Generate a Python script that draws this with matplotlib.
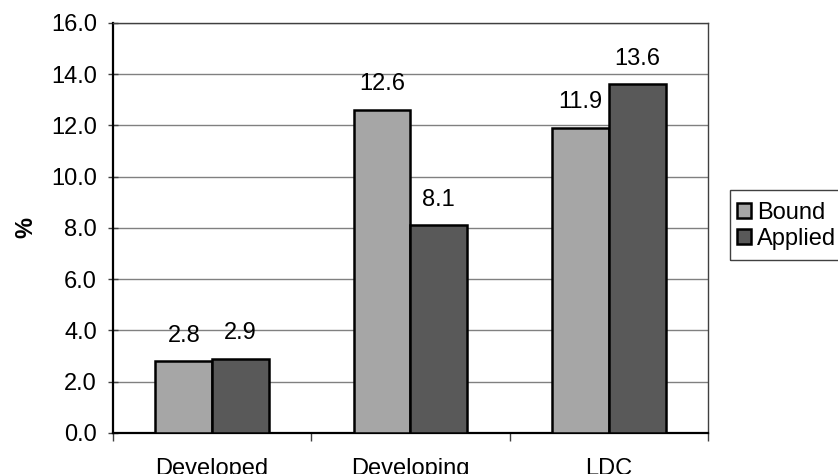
import numpy as np
import matplotlib.pyplot as plt
from matplotlib.patches import Rectangle

plt.rcParams['font.family'] = ['Liberation Sans', 'DejaVu Sans']

# tariff averages by country group
groups = ['Developed', 'Developing', 'LDC']
bound = [2.8, 12.6, 11.9]
applied = [2.9, 8.1, 13.6]
series_names = ['Bound', 'Applied']
yticks = np.arange(0, 16.1, 2.0)

fs = 17

fig = plt.figure(figsize=(8.38, 4.74), dpi=100)
ax = fig.add_axes([0.1348, 0.0865, 0.7100, 0.8650])

x = np.arange(len(groups))
w = 0.286
b1 = ax.bar(x - w / 2, bound, w, color='#a6a6a6', edgecolor='black', linewidth=1.8,
            label=series_names[0], zorder=3)
b2 = ax.bar(x + w / 2, applied, w, color='#595959', edgecolor='black', linewidth=1.8,
            label=series_names[1], zorder=3)

for bars in (b1, b2):
    for r in bars:
        v = r.get_height()
        ax.annotate(f'{v:.1f}', (r.get_x() + r.get_width() / 2, v),
                    xytext=(0, 18.5), textcoords='offset points',
                    ha='center', va='center', fontsize=fs, zorder=4)

ax.set_xlim(-0.5, len(groups) - 0.5)
ax.set_ylim(0, 16)
ax.set_yticks(yticks)
ax.set_yticklabels([f'{t:.1f}' for t in yticks], fontsize=fs)
ax.yaxis.grid(True, color='#808080', linewidth=1.0, zorder=0)

# category labels in the middle, tick marks on the boundaries
ax.set_xticks(x)
ax.set_xticklabels(groups, fontsize=fs)
ax.tick_params(axis='x', which='major', length=0, pad=18)
ax.set_xticks(np.arange(-0.5, len(groups), 1.0), minor=True)
ax.tick_params(axis='x', which='minor', length=6, width=1, direction='out', color='#404040')
ax.tick_params(axis='y', length=7, width=1, direction='inout', color='#404040', pad=8)

for side in ('left', 'bottom'):
    ax.spines[side].set_linewidth(1.6)
    ax.spines[side].set_color('black')
for side in ('top', 'right'):
    ax.spines[side].set_linewidth(1.0)
    ax.spines[side].set_color('#404040')

ax.set_ylabel('%', fontsize=fs, fontweight='bold', labelpad=10)

# legend entries without their own frame; the box runs off the right edge
fig.legend(handles=[b1, b2], loc='upper left', bbox_to_anchor=(0.8795, 0.5736),
           fontsize=fs, frameon=False, handlelength=0.6, handleheight=0.6,
           handletextpad=0.25, borderpad=0, labelspacing=0.15, borderaxespad=0)
fig.patches.append(Rectangle((730 / 838, 1 - 260 / 474), 0.2, 70 / 474,
                             transform=fig.transFigure, fill=False,
                             edgecolor='#404040', linewidth=1.0))

fig.savefig('out.png', dpi=100)
